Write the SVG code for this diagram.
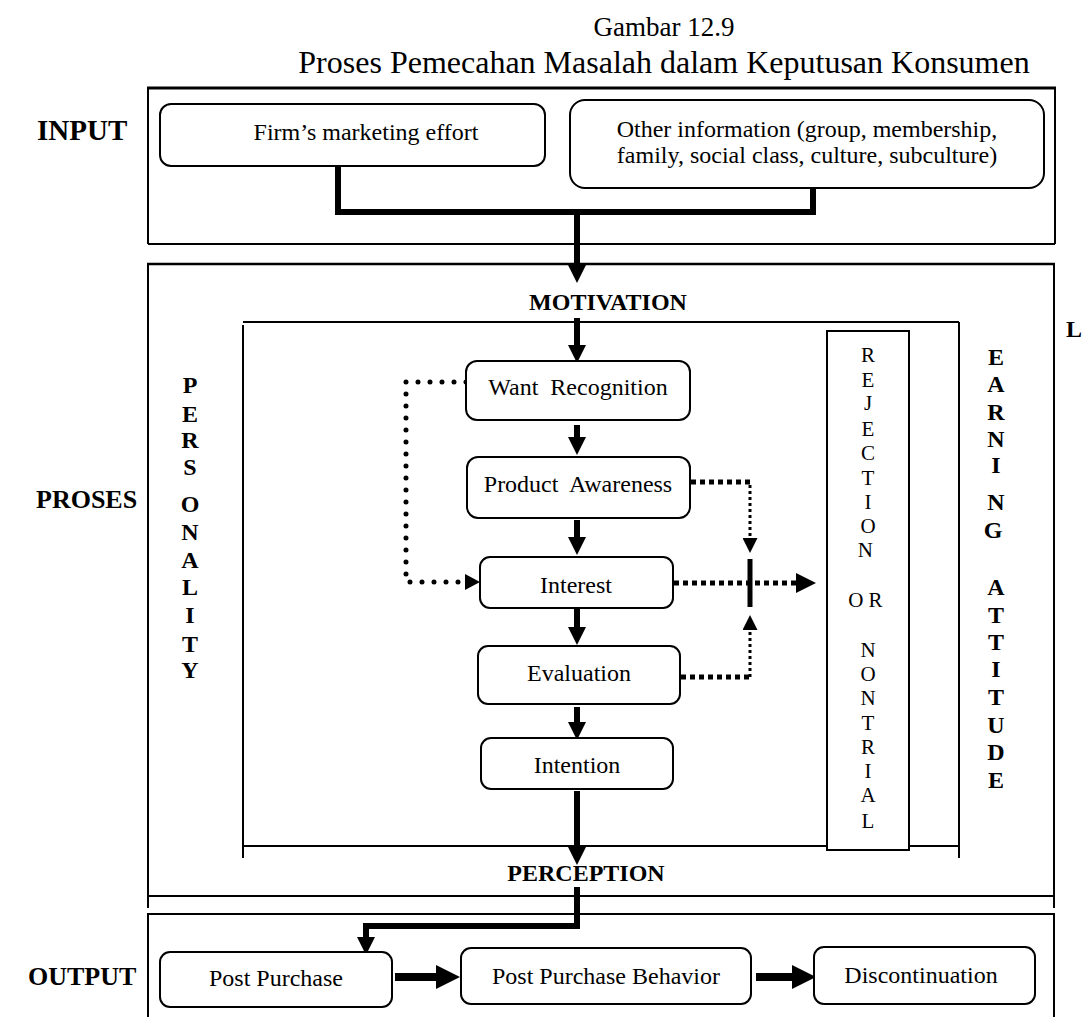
<svg xmlns="http://www.w3.org/2000/svg" width="1084" height="1017" viewBox="0 0 1084 1017">
  <style>
    .t { font-family: "Liberation Serif", "Times New Roman", serif; font-size: 24px; text-anchor: middle; fill: #000; }
    .pre { white-space: pre; }
    .b { font-weight: bold; }
    .lbl { font-family: "Liberation Serif", "Times New Roman", serif; font-size: 27px; font-weight: bold; fill: #000; }
    .stack { font-family: "Liberation Serif", "Times New Roman", serif; font-size: 24px; font-weight: bold; text-anchor: middle; }
    .stackr { font-family: "Liberation Serif", "Times New Roman", serif; font-size: 21px; text-anchor: middle; }
    .box { fill: #fff; stroke: #000; stroke-width: 2; }
    .frame { fill: none; stroke: #000; stroke-width: 2; }
    .thick { fill: none; stroke: #000; stroke-width: 6; }
    .dotr { fill: none; stroke: #000; stroke-width: 5; stroke-linecap: round; stroke-dasharray: 0 12; }
    .sq { fill: none; stroke: #000; stroke-width: 5; stroke-dasharray: 5 4; }
    .thin { fill: none; stroke: #000; stroke-width: 3; stroke-dasharray: 3 3; }
  </style>
  <defs>
    <marker id="head" markerUnits="userSpaceOnUse" markerWidth="18" markerHeight="18" refX="7" refY="9" orient="auto">
      <path d="M0,0 L18,9 L0,18 Z" fill="#000"/>
    </marker>
    <marker id="dhead" markerUnits="userSpaceOnUse" markerWidth="15" markerHeight="15" refX="7" refY="7.5" orient="auto">
      <path d="M0,0 L15,7.5 L0,15 Z" fill="#000"/>
    </marker>
    <marker id="bhead" markerUnits="userSpaceOnUse" markerWidth="24" markerHeight="24" refX="10" refY="12" orient="auto">
      <path d="M0,0 L24,12 L0,24 Z" fill="#000"/>
    </marker>
  </defs>

  <!-- caption -->
  <text class="t" x="664" y="36" style="font-size:27px">Gambar 12.9</text>
  <text class="t" x="664" y="73" style="font-size:32px">Proses Pemecahan Masalah dalam Keputusan Konsumen</text>

  <!-- section frames -->
  <g id="frames">
    <path class="frame" d="M148,244 V88 M1055,88 V244 M148,244 H1055"/>
    <path d="M147,88 H1056" stroke="#000" stroke-width="3"/>
    <path class="frame" d="M148,908 V264 M1054,264 V908 M148,896 H1054"/>
    <path d="M147,264 H1055" stroke="#000" stroke-width="2.5"/>
    <path class="frame" d="M148,1017 V914 H1054 V1017"/>
    <!-- inner process frame -->
    <path class="frame" d="M243,322 H959 M243,325 V858 M959,322 V858 M243,846 H959"/>
  </g>

  <text class="lbl" x="37" y="140" style="font-size:29px">INPUT</text>
  <text class="lbl" x="36" y="508" style="font-size:26px">PROSES</text>
  <text class="lbl" x="28" y="985" style="font-size:26px">OUTPUT</text>

  <text class="t b" x="608" y="310">MOTIVATION</text>
  <text class="t b" x="586" y="881">PERCEPTION</text>

  <!-- side factors -->
  <g id="personality">
    <text class="stack">
      <tspan x="190" y="393">P</tspan><tspan x="190" y="422">E</tspan><tspan x="190" y="448">R</tspan><tspan x="190" y="475">S</tspan><tspan x="190" y="512">O</tspan><tspan x="190" y="540">N</tspan><tspan x="190" y="568">A</tspan><tspan x="190" y="595">L</tspan><tspan x="190" y="623">I</tspan><tspan x="190" y="652">T</tspan><tspan x="190" y="678">Y</tspan>
    </text>
  </g>
  <g id="learning-attitude">
    <text class="stack" x="1074" y="337">L</text>
    <text class="stack">
      <tspan x="996" y="365">E</tspan><tspan x="996" y="392">A</tspan><tspan x="996" y="420">R</tspan><tspan x="996" y="447">N</tspan><tspan x="996" y="473">I</tspan><tspan x="996" y="510">N</tspan><tspan x="996" y="538">G</tspan>
      <tspan x="996" y="595">A</tspan><tspan x="996" y="623">T</tspan><tspan x="996" y="650">T</tspan><tspan x="996" y="677">I</tspan><tspan x="996" y="705">T</tspan><tspan x="996" y="733">U</tspan><tspan x="996" y="760">D</tspan><tspan x="996" y="788">E</tspan>
    </text>
  </g>
  <g id="rejection">
    <rect x="827" y="331" width="82" height="519" fill="#fff" stroke="#000" stroke-width="2"/>
    <text class="stackr">
      <tspan x="868" y="362">R</tspan><tspan x="868" y="387">E</tspan><tspan x="868" y="410">J</tspan><tspan x="868" y="436">E</tspan><tspan x="868" y="460">C</tspan><tspan x="868" y="485">T</tspan><tspan x="868" y="509">I</tspan><tspan x="868" y="533">O</tspan><tspan x="868" y="557">N</tspan>
      <tspan x="868" y="607">O R</tspan>
      <tspan x="868" y="657">N</tspan><tspan x="868" y="681">O</tspan><tspan x="868" y="705">N</tspan><tspan x="868" y="730">T</tspan><tspan x="868" y="754">R</tspan><tspan x="868" y="778">I</tspan><tspan x="868" y="802">A</tspan><tspan x="868" y="828">L</tspan>
    </text>
  </g>

  <!-- connectors -->
  <g id="connectors">
    <path class="thick" d="M338,166 V212 H813 V188"/>
    <path class="thick" d="M577,212 V272" marker-end="url(#head)"/>
    <path class="thick" d="M577,318 V352" marker-end="url(#head)"/>
    <path class="thick" d="M577,425 V444" marker-end="url(#head)"/>
    <path class="thick" d="M577,520 V544" marker-end="url(#head)"/>
    <path class="thick" d="M577,609 V634" marker-end="url(#head)"/>
    <path class="thick" d="M577,707 V729" marker-end="url(#head)"/>
    <path class="thick" d="M577,791 V854" marker-end="url(#head)"/>
    <path class="thick" d="M577,887 V926 H366 V944" marker-end="url(#head)"/>
    <path d="M395,977 H446" stroke="#000" stroke-width="8" marker-end="url(#bhead)"/>
    <path d="M756,977 H802" stroke="#000" stroke-width="8" marker-end="url(#bhead)"/>
    <!-- feedback loop from want recognition -->
    <path class="dotr" d="M466,382 H406 V582 H470"/>
    <path d="M465,574 L480,582 L465,590 Z" fill="#000"/>
    <!-- routes to rejection -->
    <path class="sq" d="M691,482 H750"/>
    <path class="thin" d="M750,485 V545" marker-end="url(#dhead)"/>
    <path d="M750,559 V607" stroke="#000" stroke-width="5"/>
    <path class="sq" d="M674,583 H804"/>
    <path d="M796,573 L816,583 L796,593 Z" fill="#000"/>
    <path class="sq" d="M681,677 H750"/>
    <path class="thin" d="M750,677 V623" marker-end="url(#dhead)"/>
  </g>

  <!-- nodes -->
  <g id="firm-effort">
    <rect class="box" x="160" y="104" width="385" height="62" rx="11"/>
    <text class="t" x="366" y="140">Firm’s marketing effort</text>
  </g>
  <g id="other-info">
    <rect class="box" x="570" y="100" width="474" height="88" rx="15"/>
    <text class="t" x="807" y="137">Other information (group, membership,</text>
    <text class="t" x="807" y="163">family, social class, culture, subculture)</text>
  </g>
  <g id="want-recognition">
    <rect class="box" x="466" y="361" width="224" height="59" rx="11"/>
    <text class="t pre" x="578" y="395">Want  Recognition</text>
  </g>
  <g id="product-awareness">
    <rect class="box" x="467" y="457" width="223" height="61" rx="11"/>
    <text class="t pre" x="578" y="492">Product  Awareness</text>
  </g>
  <g id="interest">
    <rect class="box" x="480" y="557" width="193" height="51" rx="10"/>
    <text class="t" x="576" y="593">Interest</text>
  </g>
  <g id="evaluation">
    <rect class="box" x="478" y="646" width="202" height="58" rx="10"/>
    <text class="t" x="579" y="681">Evaluation</text>
  </g>
  <g id="intention">
    <rect class="box" x="481" y="738" width="192" height="51" rx="10"/>
    <text class="t" x="577" y="773">Intention</text>
  </g>
  <g id="post-purchase">
    <rect class="box" x="160" y="952" width="232" height="55" rx="10"/>
    <text class="t" x="276" y="986">Post Purchase</text>
  </g>
  <g id="post-purchase-behavior">
    <rect class="box" x="461" y="948" width="290" height="56" rx="10"/>
    <text class="t" x="606" y="984">Post Purchase Behavior</text>
  </g>
  <g id="discontinuation">
    <rect class="box" x="814" y="947" width="221" height="57" rx="10"/>
    <text class="t" x="921" y="983">Discontinuation</text>
  </g>
</svg>
